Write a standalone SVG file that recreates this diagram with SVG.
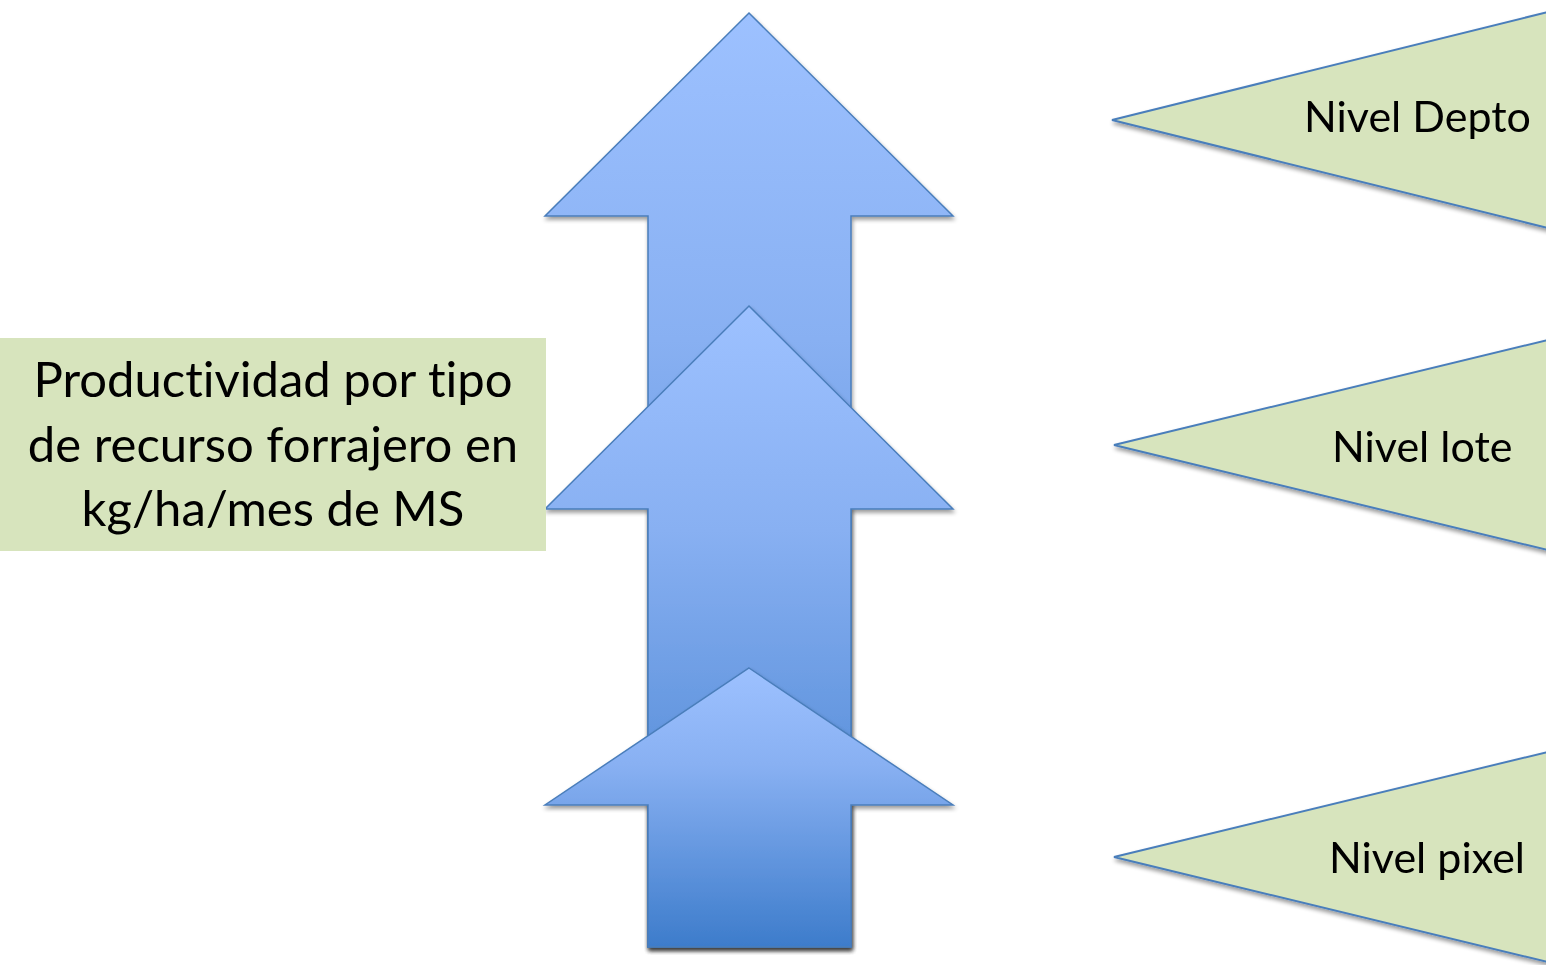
<svg xmlns="http://www.w3.org/2000/svg" width="1546" height="965" viewBox="0 0 1546 965">
<defs>
<linearGradient id="g1" gradientUnits="userSpaceOnUse" x1="0" y1="13" x2="0" y2="947">
<stop offset="0" stop-color="#9DC1FF"/><stop offset="0.35" stop-color="#88B0F2"/><stop offset="1" stop-color="#3D7CCB"/>
</linearGradient>
<linearGradient id="g2" gradientUnits="userSpaceOnUse" x1="0" y1="306" x2="0" y2="947">
<stop offset="0" stop-color="#9DC1FF"/><stop offset="0.35" stop-color="#88B0F2"/><stop offset="1" stop-color="#3D7CCB"/>
</linearGradient>
<linearGradient id="g3" gradientUnits="userSpaceOnUse" x1="0" y1="668" x2="0" y2="947">
<stop offset="0" stop-color="#9DC1FF"/><stop offset="0.35" stop-color="#88B0F2"/><stop offset="1" stop-color="#3D7CCB"/>
</linearGradient>
<filter id="sh" x="-10%" y="-10%" width="120%" height="120%">
<feGaussianBlur in="SourceAlpha" stdDeviation="2"/>
<feOffset dx="1" dy="3" result="b"/>
<feComponentTransfer><feFuncA type="linear" slope="0.4"/></feComponentTransfer>
<feMerge><feMergeNode/><feMergeNode in="SourceGraphic"/></feMerge>
</filter>
</defs>
<style>
.arr{stroke:#4A7EBB;stroke-width:1.5;stroke-linejoin:miter}
.tri{fill:#D7E4BD;stroke:#4A7EBB;stroke-width:2}
.lbl{font-family:Lato,"Open Sans",sans-serif;font-size:43px;fill:#000;font-variant-ligatures:none}
.box{font-family:Lato,"Open Sans",sans-serif;font-size:49px;fill:#000;text-anchor:middle;font-variant-ligatures:none}
</style>
<g id="arrow-top" filter="url(#sh)"><polygon class="arr" fill="url(#g1)" points="749,13 953,216 851,216 851,947 648,947 648,216 545,216"/></g>
<g id="arrow-mid" filter="url(#sh)"><polygon class="arr" fill="url(#g2)" points="749,306 953,509 851,509 851,947 648,947 648,509 545,509"/></g>
<g id="arrow-bot" filter="url(#sh)"><polygon class="arr" fill="url(#g3)" points="749,668 953,805 851,805 851,947 648,947 648,805 545,805"/></g>
<g id="box-productividad">
<rect x="0" y="338" width="546" height="213" fill="#D7E4BD"/>
<text class="box" x="273" y="397">Productividad por tipo</text>
<text class="box" x="273" y="462">de recurso forrajero en</text>
<text class="box" x="273" y="526">kg/ha/mes de MS</text>
</g>
<g id="nivel-depto" filter="url(#sh)">
<polygon class="tri" points="1112,120 1560,9 1560,231"/>
<text class="lbl" x="1304" y="132">Nivel Depto</text>
</g>
<g id="nivel-lote" filter="url(#sh)">
<polygon class="tri" points="1114,445 1560,337 1560,553"/>
<text class="lbl" x="1332" y="462">Nivel lote</text>
</g>
<g id="nivel-pixel" filter="url(#sh)">
<polygon class="tri" points="1114,857 1560,749 1560,965"/>
<text class="lbl" x="1329" y="873">Nivel pixel</text>
</g>
<g id="connectors"></g>
</svg>
